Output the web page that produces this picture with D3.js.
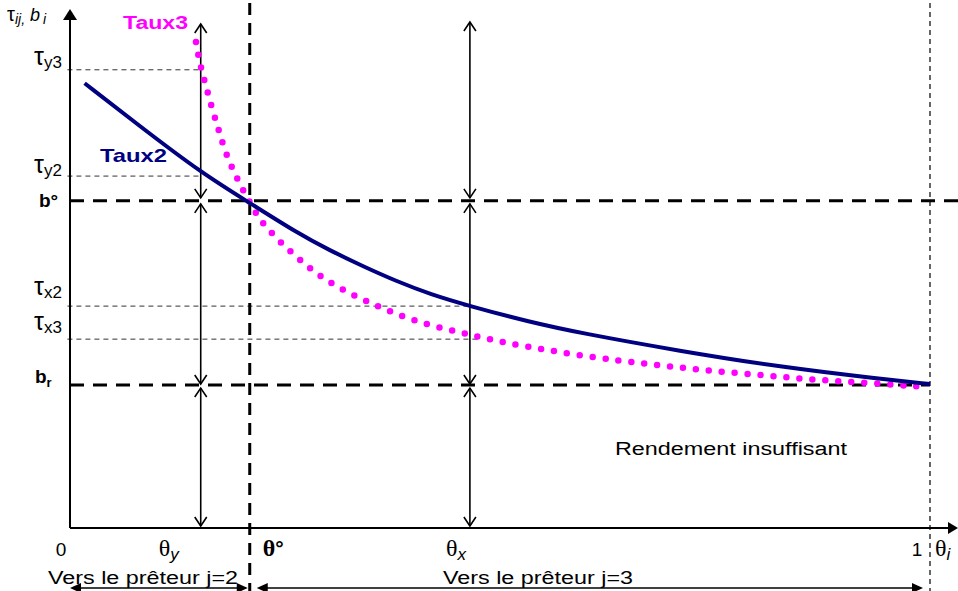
<!DOCTYPE html>
<html>
<head>
<meta charset="utf-8">
<script src="https://cdn.jsdelivr.net/npm/d3@7/dist/d3.min.js"></script>
<style>
  body { margin: 0; background: #fff; }
  svg { display: block; }
  text { font-family: "Liberation Sans", Arial, sans-serif; fill: #000; }
</style>
</head>
<body>
<svg id="chart" width="958" height="591"></svg>
<script>
// theta values on the x axis (share of the borrower, 0..1)
const thetaY = 0.152;
const thetaO = 0.209;
const thetaX = 0.465;

// rate levels on the y axis (arbitrary units 0..100)
const bO = 63.4;      // b°
const bR = 27.7;      // b_r
const tauY3 = 88.8;
const tauY2 = 68.2;
const tauX2 = 43.0;
const tauX3 = 36.6;

// Taux2 curve (theta, rate)
const taux2X = [0.017, 0.081, 0.153, 0.209, 0.264, 0.302, 0.341, 0.380, 0.419, 0.465, 0.535, 0.593, 0.709, 0.826, 0.942, 1.000];
const taux2Y = [86.2, 77.9, 68.8, 63.0, 57.2, 53.8, 50.7, 47.8, 45.3, 43.0, 39.9, 37.8, 34.3, 31.2, 28.9, 27.9];

// Taux3 curve (theta, rate)
const taux3X = [0.1465, 0.151, 0.158, 0.165, 0.173, 0.180, 0.191, 0.203, 0.209, 0.216, 0.224, 0.243, 0.265, 0.287, 0.313, 0.341, 0.370, 0.399, 0.430, 0.462, 0.492, 0.526, 0.605, 0.671, 0.735, 0.800, 0.865, 0.931, 0.997];
const taux3Y = [94.2, 89.9, 85.7, 81.4, 77.1, 73.1, 68.8, 64.9, 63.2, 61.0, 59.1, 55.6, 52.3, 49.2, 46.5, 44.2, 42.1, 40.3, 38.8, 37.6, 36.4, 35.3, 33.1, 31.8, 30.6, 29.7, 28.7, 28.1, 27.3];

const svg = d3.select("#chart");

const x = d3.scaleLinear().domain([0, 1]).range([70, 930]);
const y = d3.scaleLinear().domain([0, 100]).range([528, 12]);

const xEnd = x.invert(958);
const yTop = y.invert(9);

// thin dashed reference lines
const thin = (x1, x2, v) => svg.append("line")
    .attr("x1", x(x1)).attr("x2", x(x2))
    .attr("y1", y(v)).attr("y2", y(v))
    .attr("stroke", "#333").attr("stroke-width", 1)
    .attr("stroke-dasharray", "5,4");

thin(-0.003, thetaY, tauY3);
thin(-0.003, thetaY, tauY2);
thin(-0.003, thetaX, tauX2);
thin(-0.003, thetaX + 0.01, tauX3);

// vertical dashed line at theta = 1
svg.append("line")
    .attr("x1", x(1)).attr("x2", x(1))
    .attr("y1", 3).attr("y2", 591)
    .attr("stroke", "#000").attr("stroke-width", 1.2)
    .attr("stroke-dasharray", "5,4");

// thick dashed lines b°, b_r, theta°
svg.append("line")
    .attr("x1", x(0)).attr("x2", x(xEnd))
    .attr("y1", y(bO)).attr("y2", y(bO))
    .attr("stroke", "#000").attr("stroke-width", 3)
    .attr("stroke-dasharray", "14,9");
svg.append("line")
    .attr("x1", x(0)).attr("x2", x(1))
    .attr("y1", y(bR)).attr("y2", y(bR))
    .attr("stroke", "#000").attr("stroke-width", 3)
    .attr("stroke-dasharray", "14,9");
svg.append("line")
    .attr("x1", x(thetaO)).attr("x2", x(thetaO))
    .attr("y1", 3).attr("y2", 591)
    .attr("stroke", "#000").attr("stroke-width", 3)
    .attr("stroke-dasharray", "12,8");

// axes
svg.append("line")
    .attr("x1", x(0)).attr("x2", x(0))
    .attr("y1", y(0)).attr("y2", y(yTop) + 6)
    .attr("stroke", "#000").attr("stroke-width", 2);
svg.append("path")
    .attr("d", `M${x(0)},${y(yTop)} L${x(0) - 7},${y(yTop) + 11} L${x(0) + 7},${y(yTop) + 11} Z`)
    .attr("fill", "#000");
svg.append("line")
    .attr("x1", x(0)).attr("x2", x(xEnd) - 6)
    .attr("y1", y(0)).attr("y2", y(0))
    .attr("stroke", "#000").attr("stroke-width", 2);
svg.append("path")
    .attr("d", `M${x(xEnd)},${y(0)} L${x(xEnd) - 10},${y(0) - 6} L${x(xEnd) - 10},${y(0) + 6} Z`)
    .attr("fill", "#000");

// vertical double arrows with open heads
const openHead = (px, py, dir) => svg.append("path")
    .attr("d", `M${px - 6},${py - dir * 9} L${px},${py} L${px + 6},${py - dir * 9}`)
    .attr("fill", "none").attr("stroke", "#000").attr("stroke-width", 1.6);

const dblArrow = (t, top, bot) => {
  const px = x(t);
  svg.append("line")
      .attr("x1", px).attr("x2", px).attr("y1", top).attr("y2", bot)
      .attr("stroke", "#000").attr("stroke-width", 1.6);
  openHead(px, top, -1);
  openHead(px, bot, 1);
};

[thetaY, thetaX].forEach(t => {
  dblArrow(t, t === thetaY ? 24 : 22, y(bO) - 3);
  dblArrow(t, y(bO) + 3, y(bR) - 1);
  dblArrow(t, y(bR) + 3, y(0) - 2);
});

// curves
const line = d3.line()
    .x(d => x(d[0]))
    .y(d => y(d[1]))
    .curve(d3.curveBasis);

svg.append("path")
    .datum(d3.zip(taux3X, taux3Y))
    .attr("d", line)
    .attr("fill", "none")
    .attr("stroke", "#ff00ff")
    .attr("stroke-width", 6.5)
    .attr("stroke-linecap", "round")
    .attr("stroke-dasharray", "0,13");

svg.append("path")
    .datum(d3.zip(taux2X, taux2Y))
    .attr("d", line)
    .attr("fill", "none")
    .attr("stroke", "#000080")
    .attr("stroke-width", 4);

// curve labels
svg.append("text")
    .attr("x", 123).attr("y", 29)
    .attr("font-size", 18).attr("font-weight", "bold")
    .attr("textLength", 65).attr("lengthAdjust", "spacingAndGlyphs")
    .style("fill", "#ff00ff")
    .text("Taux3");
svg.append("text")
    .attr("x", 100).attr("y", 162)
    .attr("font-size", 19).attr("font-weight", "bold")
    .attr("textLength", 67).attr("lengthAdjust", "spacingAndGlyphs")
    .style("fill", "#000080")
    .text("Taux2");

// y axis labels
const tauLabel = (v, sub, dy) => {
  const t = svg.append("text").attr("x", 34).attr("y", y(v) + dy);
  t.append("tspan").attr("font-size", 25).text("τ");
  t.append("tspan").attr("font-size", 17).attr("dy", 3).text(sub);
};
tauLabel(tauY3, "y3", -5);
tauLabel(tauY2, "y2", -3);
tauLabel(tauX2, "x2", -11);
tauLabel(tauX3, "x3", -9);

svg.append("text")
    .attr("x", 39).attr("y", y(bO) + 6)
    .attr("font-size", 19).attr("font-weight", "bold")
    .text("b°");
const brl = svg.append("text")
    .attr("x", 35).attr("y", y(bR) - 2)
    .attr("font-size", 19).attr("font-weight", "bold");
brl.append("tspan").text("b");
brl.append("tspan").attr("font-size", 13).attr("dy", 4).text("r");

// y axis title
const yt = svg.append("text").attr("x", 7).attr("y", 21);
yt.append("tspan").attr("font-size", 20).text("τ");
yt.append("tspan").attr("font-size", 14).attr("font-style", "italic").attr("dy", 3).text("ij,");
yt.append("tspan").attr("font-size", 18).attr("font-style", "italic").attr("dy", -3).attr("dx", 5).text("b");
yt.append("tspan").attr("font-size", 14).attr("font-style", "italic").attr("dy", 3).attr("dx", 3).text("i");

// x axis labels
const theta = (t, dx, sub, bold) => {
  const el = svg.append("text").attr("x", x(t) + dx).attr("y", 556);
  el.append("tspan")
      .style("font-family", "'Liberation Serif', serif")
      .attr("font-size", 24)
      .attr("font-weight", bold ? "bold" : null)
      .text("θ");
  el.append("tspan")
      .attr("font-size", sub === "°" ? 21 : 17)
      .attr("font-weight", bold ? "bold" : null)
      .attr("font-style", sub === "°" ? null : "italic")
      .attr("dy", sub === "°" ? -1 : 4)
      .text(sub);
};
theta(thetaY, -42, "y", false);
theta(thetaO, 13, "°", true);
theta(thetaX, -24, "x", false);
theta(1, 5, "i", false);

svg.append("text").attr("x", x(0) - 9).attr("y", 556)
    .attr("font-size", 19).attr("text-anchor", "middle").text("0");
svg.append("text").attr("x", x(1) - 13).attr("y", 556)
    .attr("font-size", 19).attr("text-anchor", "middle").text("1");

// annotation
svg.append("text")
    .attr("x", 615).attr("y", 455)
    .attr("font-size", 18)
    .attr("textLength", 232).attr("lengthAdjust", "spacingAndGlyphs")
    .text("Rendement insuffisant");

// bottom arrows towards lenders
const hArrow = (x1, x2, label, lx) => {
  const yy = 588;
  svg.append("line").attr("x1", x1 + 8).attr("x2", x2 - 8)
      .attr("y1", yy).attr("y2", yy)
      .attr("stroke", "#000").attr("stroke-width", 1.6);
  svg.append("path").attr("d", `M${x1},${yy} L${x1 + 11},${yy - 5} L${x1 + 11},${yy + 5} Z`);
  svg.append("path").attr("d", `M${x2},${yy} L${x2 - 11},${yy - 5} L${x2 - 11},${yy + 5} Z`);
  svg.append("text")
      .attr("x", lx).attr("y", 584)
      .attr("font-size", 18)
      .attr("textLength", 190).attr("lengthAdjust", "spacingAndGlyphs")
      .text(label);
};
hArrow(x(0), x(thetaO) - 2, "Vers le prêteur j=2", 48);
hArrow(x(thetaO) + 7, x(1) - 7, "Vers le prêteur j=3", 443);
</script>
</body>
</html>
